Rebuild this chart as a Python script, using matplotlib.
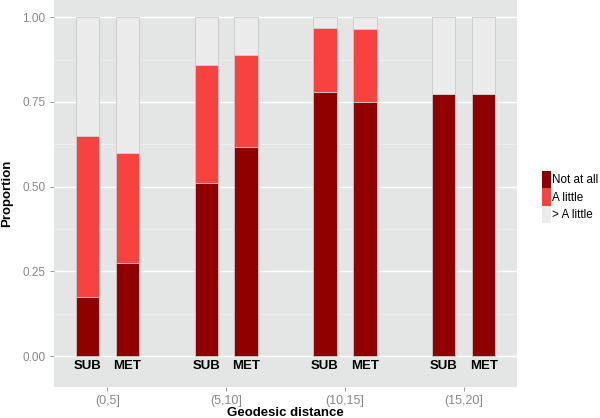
import matplotlib.pyplot as plt
from matplotlib.patches import Patch
import numpy as np

plt.rcParams['font.family'] = ['Liberation Sans', 'DejaVu Sans']

groups = ['(0,5]', '(5,10]', '(10,15]', '(15,20]']
bar_labels = ['SUB', 'MET']
# order: SUB, MET for each group
not_at_all = [0.175, 0.275, 0.51, 0.617, 0.78, 0.75, 0.775, 0.775]
a_little = [0.475, 0.325, 0.35, 0.272, 0.187, 0.215, 0.0, 0.0]
more_than = [0.35, 0.40, 0.14, 0.111, 0.033, 0.035, 0.225, 0.225]
series_names = ['Not at all', 'A little', '> A little']
colors = ['#900000', '#f8423f', '#ebebeb']

fig = plt.figure(figsize=(6, 4.18), dpi=100)
ax = fig.add_axes([0.09, 0.074, 0.772, 0.926])
ax.set_facecolor('#e4e6e6')

offset = 0.168
width = 0.197
pos = []
for g in range(len(groups)):
    pos += [g + 1 - offset, g + 1 + offset]
pos = np.array(pos)

bottom = np.zeros(len(pos))
for vals, col in zip([not_at_all, a_little, more_than], colors):
    ax.bar(pos, vals, width=width, bottom=bottom, color=col,
           edgecolor='#c9c9c9', linewidth=0.6, zorder=3)
    bottom += np.array(vals)

for i, p in enumerate(pos):
    ax.text(p, -0.03, bar_labels[i % 2], ha='center', va='center',
            fontsize=9.5, fontweight='bold', color='black', zorder=4)

ax.set_xlim(0.55, 4.45)
ax.set_ylim(-0.0915, 1.051)
ax.set_xticks(range(1, len(groups) + 1))
ax.set_xticklabels(groups)
ax.set_yticks([0, 0.25, 0.5, 0.75, 1.0])
ax.set_yticklabels(['0.00', '0.25', '0.50', '0.75', '1.00'])
ax.set_yticks([0.125, 0.375, 0.625, 0.875], minor=True)
ax.grid(True, which='major', axis='y', color='white', linewidth=1.0, zorder=0)
ax.grid(True, which='minor', axis='y', color='#f0f2f2', linewidth=0.5, zorder=0)
ax.tick_params(axis='both', which='major', colors='#888888', labelcolor='#888888',
               length=3, width=0.6, pad=3)
ax.tick_params(axis='x', labelsize=9, pad=2.5)
ax.tick_params(axis='y', labelsize=8.5)
ax.tick_params(axis='both', which='minor', length=0)
for s in ax.spines.values():
    s.set_visible(False)

ax.set_xlabel('Geodesic distance', fontsize=9.5, fontweight='bold')
ax.set_ylabel('Proportion', fontsize=9.5, fontweight='bold')
ax.xaxis.set_label_coords(0.5, -0.067)
ax.yaxis.set_label_coords(-0.102, 0.5)
ax.xaxis.label.set_va('center')
ax.yaxis.label.set_va('center')

handles = [Patch(facecolor=c, edgecolor='none') for c in colors]
fig.legend(handles, series_names, loc='upper left', bbox_to_anchor=(0.903, 0.591),
           frameon=False, fontsize=8.4, handlelength=0.77, handleheight=1.92,
           labelspacing=0.0, handletextpad=0.08, borderpad=0, borderaxespad=0)

plt.savefig('out.png', dpi=100)
